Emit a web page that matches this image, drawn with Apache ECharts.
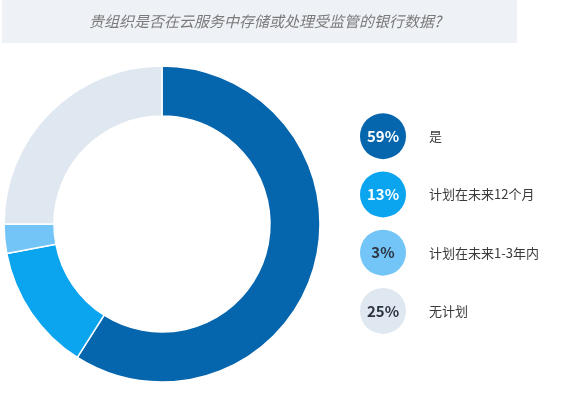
<!DOCTYPE html>
<html><head><meta charset="utf-8">
<script src="https://cdn.jsdelivr.net/npm/echarts@6/dist/echarts.min.js"></script>
<style>html,body{margin:0;padding:0;background:#fff}#c{width:569px;height:397px}</style>
</head><body><div id="c"></div>
<script>
const title = '贵组织是否在云服务中存储或处理受监管的银行数据?';
const categories = ['是', '计划在未来12个月', '计划在未来1-3年内', '无计划'];
const values = [59, 13, 3, 25];
const colors = ['#0565ad', '#0ba4ef', '#72c5f6', '#dfe7f0'];
const circleTextColors = ['#ffffff', '#ffffff', '#2b3440', '#2b3440'];

const chart = echarts.init(document.getElementById('c'));
const font = '"Noto Sans CJK SC", "Noto Sans", sans-serif';
chart.setOption({
  animation: false,
  graphic: [
    { type: 'rect', shape: { x: 2, y: 0, width: 515, height: 43 }, style: { fill: '#eef1f6' }, z: 0 },
    { type: 'text', x: 265, y: 21, style: { text: title, fill: '#7a7a7a', font: 'italic 15px ' + font, align: 'center', verticalAlign: 'middle' }, z: 1 }
  ],
  grid: { left: 360, width: 46, top: 107, height: 233 },
  xAxis: { type: 'value', min: -1, max: 1, show: false },
  yAxis: {
    type: 'category', data: categories, inverse: true, position: 'right',
    axisLine: { show: false }, axisTick: { show: false }, splitLine: { show: false },
    axisLabel: { margin: 23, align: 'left', color: '#3a3a3a', fontSize: 13, fontFamily: font }
  },
  series: [
    {
      type: 'pie', radius: [108, 158], center: [162, 224], startAngle: 90, clockwise: true,
      label: { show: false }, labelLine: { show: false },
      itemStyle: { borderColor: '#fff', borderWidth: 1.5 },
      data: categories.map((c, i) => ({ name: c, value: values[i], itemStyle: { color: colors[i] } }))
    },
    {
      type: 'scatter', symbolSize: 46,
      data: categories.map((c, i) => ({
        value: [0, c],
        itemStyle: { color: colors[i], opacity: 1 },
        label: { show: true, position: 'inside', formatter: values[i] + '%', color: circleTextColors[i],
                 fontSize: 15, fontWeight: 'bold', fontFamily: font }
      }))
    }
  ]
});
</script></body></html>
